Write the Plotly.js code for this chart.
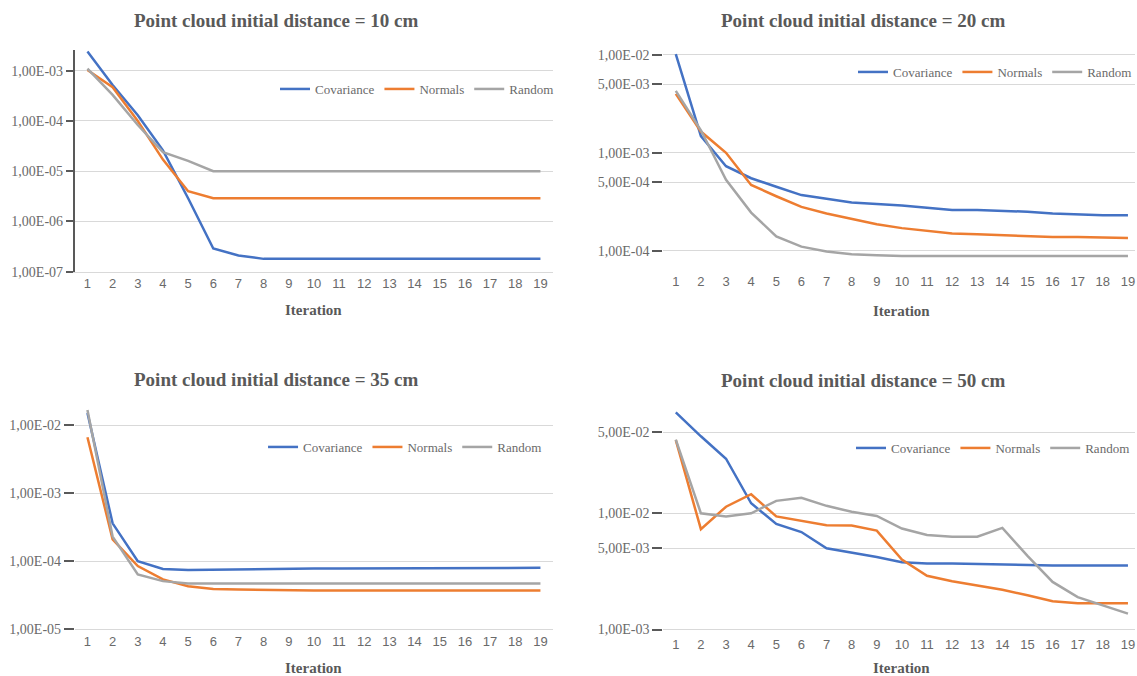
<!DOCTYPE html>
<html><head><meta charset="utf-8">
<script src="https://cdn.plot.ly/plotly-3.0.1.min.js"></script>
<style>html,body{margin:0;padding:0;background:#fff}#chart{width:1137px;height:676px}</style>
</head><body><div id="chart"></div>
<script>
// ---------- DATA ----------
const iterations = [1,2,3,4,5,6,7,8,9,10,11,12,13,14,15,16,17,18,19];
const seriesNames = ['Covariance', 'Normals', 'Random'];

// 10 cm
const cov10 = [2.4e-3,5.2e-4,1.3e-4,2.6e-5,2.9e-6,2.9e-7,2.1e-7,1.8e-7,1.8e-7,1.8e-7,1.8e-7,1.8e-7,1.8e-7,1.8e-7,1.8e-7,1.8e-7,1.8e-7,1.8e-7,1.8e-7];
const nor10 = [1.03e-3,4.7e-4,1.0e-4,1.7e-5,4.0e-6,2.9e-6,2.9e-6,2.9e-6,2.9e-6,2.9e-6,2.9e-6,2.9e-6,2.9e-6,2.9e-6,2.9e-6,2.9e-6,2.9e-6,2.9e-6,2.9e-6];
const ran10 = [1.1e-3,3.3e-4,8.3e-5,2.4e-5,1.6e-5,1.0e-5,1.0e-5,1.0e-5,1.0e-5,1.0e-5,1.0e-5,1.0e-5,1.0e-5,1.0e-5,1.0e-5,1.0e-5,1.0e-5,1.0e-5,1.0e-5];

// 20 cm
const cov20 = [1.02e-2,1.48e-3,7.3e-4,5.5e-4,4.5e-4,3.7e-4,3.4e-4,3.1e-4,3.0e-4,2.9e-4,2.75e-4,2.6e-4,2.6e-4,2.55e-4,2.5e-4,2.4e-4,2.35e-4,2.3e-4,2.3e-4];
const nor20 = [4.0e-3,1.65e-3,1.0e-3,4.7e-4,3.6e-4,2.8e-4,2.4e-4,2.1e-4,1.86e-4,1.7e-4,1.6e-4,1.5e-4,1.47e-4,1.44e-4,1.42e-4,1.38e-4,1.38e-4,1.37e-4,1.35e-4];
const ran20 = [4.3e-3,1.7e-3,5.3e-4,2.45e-4,1.4e-4,1.1e-4,9.8e-5,9.2e-5,9.0e-5,8.8e-5,8.8e-5,8.8e-5,8.8e-5,8.8e-5,8.8e-5,8.8e-5,8.8e-5,8.8e-5,8.8e-5];

// 35 cm
const cov35 = [1.5e-2,3.6e-4,1.0e-4,7.7e-5,7.4e-5,7.5e-5,7.6e-5,7.7e-5,7.8e-5,7.8e-5,7.8e-5,7.8e-5,7.8e-5,7.8e-5,7.8e-5,7.9e-5,7.9e-5,8.0e-5,8.0e-5];
const nor35 = [6.6e-3,2.1e-4,8.5e-5,5.4e-5,4.3e-5,3.9e-5,3.85e-5,3.8e-5,3.7e-5,3.7e-5,3.7e-5,3.7e-5,3.7e-5,3.7e-5,3.7e-5,3.7e-5,3.7e-5,3.7e-5,3.7e-5];
const ran35 = [1.66e-2,2.3e-4,6.4e-5,5.1e-5,4.7e-5,4.7e-5,4.7e-5,4.7e-5,4.7e-5,4.7e-5,4.7e-5,4.7e-5,4.7e-5,4.7e-5,4.7e-5,4.7e-5,4.7e-5,4.7e-5,4.7e-5];

// 50 cm
const cov50 = [7.4e-2,4.6e-2,2.95e-2,1.22e-2,8.1e-3,6.9e-3,5.0e-3,4.6e-3,4.2e-3,3.8e-3,3.7e-3,3.7e-3,3.65e-3,3.6e-3,3.55e-3,3.55e-3,3.55e-3,3.55e-3,3.55e-3];
const nor50 = [4.26e-2,7.3e-3,1.14e-2,1.46e-2,9.4e-3,8.65e-3,7.9e-3,7.85e-3,7.1e-3,4.0e-3,2.9e-3,2.6e-3,2.4e-3,2.2e-3,1.97e-3,1.75e-3,1.68e-3,1.68e-3,1.68e-3];
const ran50 = [4.3e-2,1.0e-2,9.4e-3,1.0e-2,1.28e-2,1.36e-2,1.16e-2,1.03e-2,9.5e-3,7.4e-3,6.5e-3,6.3e-3,6.3e-3,7.5e-3,4.3e-3,2.57e-3,1.9e-3,1.62e-3,1.37e-3];

// tick values / labels
const tickVals10 = [1e-7,1e-6,1e-5,1e-4,1e-3];
const tickText10 = ['1,00E-07','1,00E-06','1,00E-05','1,00E-04','1,00E-03'];
const tickVals20 = [1e-4,5e-4,1e-3,5e-3,1e-2];
const tickText20 = ['1,00E-04','5,00E-04','1,00E-03','5,00E-03','1,00E-02'];
const tickVals35 = [1e-5,1e-4,1e-3,1e-2];
const tickText35 = ['1,00E-05','1,00E-04','1,00E-03','1,00E-02'];
const tickVals50 = [1e-3,5e-3,1e-2,5e-2];
const tickText50 = ['1,00E-03','5,00E-03','1,00E-02','5,00E-02'];

const panelTitles = ['Point cloud initial distance = 10 cm','Point cloud initial distance = 20 cm',
                     'Point cloud initial distance = 35 cm','Point cloud initial distance = 50 cm'];
const xTitle = 'Iteration';

// ---------- LAYOUT HELPERS ----------
const W = 1137, H = 676;
const colors = ['#4472C4', '#ED7D31', '#A5A5A5'];
const grey = '#595959';
const xd = (a, b) => [a / W, Math.min(1, b / W)];
const yd = (top, bot) => [1 - bot / H, 1 - top / H];

const panels = [
  {data:[cov10,nor10,ran10], tv:tickVals10, tt:tickText10, xpx:[75,554], xr:[0.5,19.5], ypx:[50,271.7], yr:[-7,-2.588],
   axisLine:true, bottomLine:true, leg:{x:560, y:89}, title:{x:276, y:20}, xt:{x:314.5, y:310}},
  {data:[cov20,nor20,ran20], tv:tickVals20, tt:tickText20, xpx:[664.4,1137], xr:[0.5,19.28], ypx:[50,272], yr:[-4.218,-1.949],
   axisLine:false, bottomLine:false, leg:{x:1139, y:72}, title:{x:865, y:20}, xt:{x:903, y:311}},
  {data:[cov35,nor35,ran35], tv:tickVals35, tt:tickText35, xpx:[75,554], xr:[0.5,19.5], ypx:[405,629.3], yr:[-5,-1.706],
   axisLine:false, bottomLine:true, leg:{x:548, y:447}, title:{x:276, y:379}, xt:{x:314.5, y:668}},
  {data:[cov50,nor50,ran50], tv:tickVals50, tt:tickText50, xpx:[664.4,1137], xr:[0.5,19.28], ypx:[405,635], yr:[-3.047,-1.068],
   axisLine:false, bottomLine:false, leg:{x:1137, y:448}, title:{x:865, y:380}, xt:{x:903, y:668}}
];

const traces = [];
const layout = {
  width: W, height: H, margin: {l:0, r:0, t:0, b:0},
  paper_bgcolor: '#fff', plot_bgcolor: '#fff', showlegend: true,
  font: {family: 'Liberation Serif, serif', color: grey, size: 13},
  annotations: []
};

panels.forEach((p, i) => {
  const n = i + 1;
  const xa = n === 1 ? 'x' : 'x' + n;
  const ya = n === 1 ? 'y' : 'y' + n;
  const lg = n === 1 ? 'legend' : 'legend' + n;
  p.data.forEach((vals, k) => {
    traces.push({
      type: 'scatter', mode: 'lines', x: iterations, y: vals, name: seriesNames[k],
      xaxis: xa, yaxis: ya, legend: lg,
      line: {color: colors[k], width: 2.5}, hoverinfo: 'x+y+name'
    });
  });
  layout[n === 1 ? 'xaxis' : 'xaxis' + n] = {
    domain: xd(p.xpx[0], p.xpx[1]), range: p.xr, anchor: ya,
    tickmode: 'array', tickvals: iterations, ticktext: iterations.map(String),
    showgrid: false, zeroline: false, ticks: '',
    showline: p.bottomLine, linecolor: '#d9d9d9', linewidth: 1,
    tickfont: {family: 'Liberation Sans, Arial, sans-serif', size: 13, color: '#6a6a6a'}
  };
  layout[n === 1 ? 'yaxis' : 'yaxis' + n] = {
    domain: yd(p.ypx[0], p.ypx[1]), type: 'log', range: p.yr, anchor: xa,
    tickmode: 'array', tickvals: p.tv, ticktext: p.tt,
    showgrid: true, gridcolor: '#d9d9d9', gridwidth: 1, zeroline: false,
    ticks: 'outside', ticklen: p.axisLine ? 7 : 10, tickwidth: 2, tickcolor: grey,
    showline: p.axisLine, linecolor: grey, linewidth: 2,
    tickfont: {family: 'Liberation Serif, serif', size: 14, color: '#6a6a6a'}
  };
  layout[lg] = {
    orientation: 'h', x: p.leg.x / W, xanchor: 'right', y: 1 - p.leg.y / H, yanchor: 'middle',
    bgcolor: 'rgba(0,0,0,0)', borderwidth: 0, itemwidth: 30,
    font: {family: 'Liberation Serif, serif', size: 13, color: '#6a6a6a'}
  };
  layout.annotations.push({
    text: '<b>' + panelTitles[i] + '</b>', xref: 'paper', yref: 'paper',
    x: p.title.x / W, y: 1 - p.title.y / H, xanchor: 'center', yanchor: 'middle',
    showarrow: false, font: {family: 'Liberation Serif, serif', size: 19, color: grey}
  });
  layout.annotations.push({
    text: '<b>' + xTitle + '</b>', xref: 'paper', yref: 'paper',
    x: p.xt.x / W, y: 1 - p.xt.y / H, xanchor: 'center', yanchor: 'middle',
    showarrow: false, font: {family: 'Liberation Serif, serif', size: 15, color: grey}
  });
});

Plotly.newPlot('chart', traces, layout, {displayModeBar: false, staticPlot: true});
</script>
</body></html>
